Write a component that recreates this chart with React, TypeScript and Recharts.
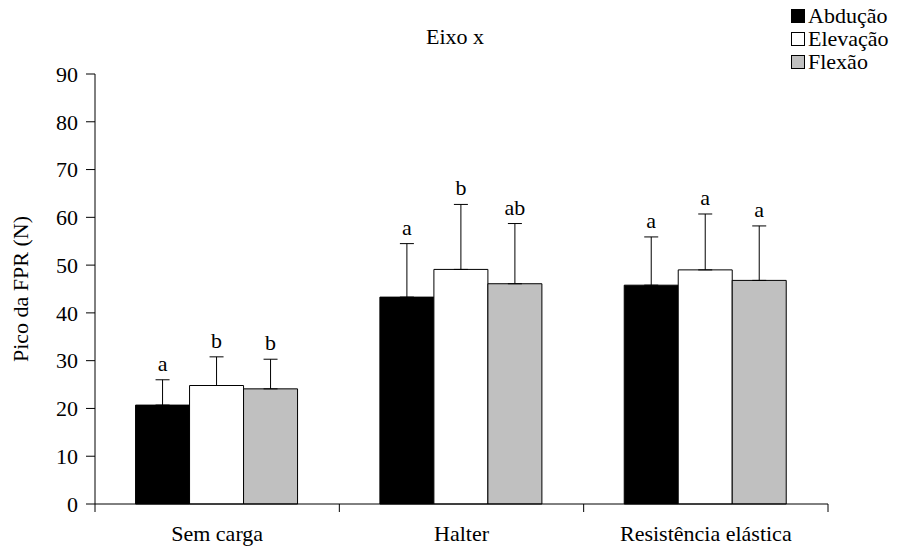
import React from 'react';
import { BarChart, Bar, XAxis, YAxis, ErrorBar, LabelList, Legend, Label } from 'recharts';

const categories = ['Sem carga', 'Halter', 'Resistência elástica'];
const abducao = [20.7, 43.3, 45.8];
const abducaoSd = [5.3, 11.2, 10.1];
const elevacao = [24.8, 49.1, 49.0];
const elevacaoSd = [6.0, 13.6, 11.7];
const flexao = [24.1, 46.1, 46.8];
const flexaoSd = [6.2, 12.6, 11.4];
const abducaoLetters = ['a', 'a', 'a'];
const elevacaoLetters = ['b', 'b', 'a'];
const flexaoLetters = ['b', 'ab', 'a'];
const yTicks = [0, 10, 20, 30, 40, 50, 60, 70, 80, 90];

const FONT = 'Liberation Serif';
const FS = 22;
const txt = { fontFamily: FONT, fontSize: FS };

const data = categories.map((name, i) => ({
  name,
  abd: abducao[i],
  abdErr: [0, abducaoSd[i]],
  abdL: abducaoLetters[i],
  ele: elevacao[i],
  eleErr: [0, elevacaoSd[i]],
  eleL: elevacaoLetters[i],
  fle: flexao[i],
  fleErr: [0, flexaoSd[i]],
  fleL: flexaoLetters[i],
}));

const series = [
  { key: 'abd', name: 'Abdução', fill: '#000000', sd: abducaoSd, vals: abducao },
  { key: 'ele', name: 'Elevação', fill: '#ffffff', sd: elevacaoSd, vals: elevacao },
  { key: 'fle', name: 'Flexão', fill: '#c0c0c0', sd: flexaoSd, vals: flexao },
];

// letter above the error bar: bar px-per-unit from bar geometry
const letterContent = (vals: number[], sd: number[]) => (props: any) => {
  const { x, y, width, height, value, index } = props;
  const pxPerUnit = height / vals[index];
  const top = y - sd[index] * pxPerUnit;
  return (
    <text x={x + width / 2} y={top - 9} textAnchor="middle" style={txt} fill="#000">
      {value}
    </text>
  );
};

// category label + tick marks on the band edges (Excel style)
const CatTick = (props: any) => {
  const { x, y, payload, index, visibleTicksCount } = props;
  const half = payload.offset || 0;
  const last = index === visibleTicksCount - 1;
  return (
    <g>
      <line x1={x - half} x2={x - half} y1={y} y2={y + 8} stroke="#000" />
      {last && <line x1={x + half} x2={x + half} y1={y} y2={y + 8} stroke="#000" />}
      <text x={x} y={y + 21} dy="0.71em" textAnchor="middle" style={txt} fill="#000">
        {payload.value}
      </text>
    </g>
  );
};

const LegendBox = () => (
  <div style={{ ...txt, color: '#000', lineHeight: '23px' }}>
    {series.map((s) => (
      <div key={s.key} style={{ display: 'flex', alignItems: 'center', whiteSpace: 'nowrap' }}>
        <span
          style={{
            display: 'inline-block',
            width: 12,
            height: 12,
            background: s.fill,
            border: '1px solid #000',
            marginRight: 3,
          }}
        />
        {s.name}
      </div>
    ))}
  </div>
);

const YTitle = (props: any) => {
  const vb = props.viewBox || { x: 0, y: 74, width: 95, height: 430 };
  const cx = 20;
  const cy = vb.y + vb.height / 2;
  return (
    <text x={cx} y={cy} transform={`rotate(-90 ${cx} ${cy})`} textAnchor="middle" dominantBaseline="central" style={txt} fill="#000">
      Pico da FPR (N)
    </text>
  );
};

export default function App() {
  return (
    <div style={{ position: 'absolute', left: 0, top: 0, width: 898, height: 548, background: '#fff', ...txt }}>
      <BarChart
        width={898}
        height={548}
        data={data}
        margin={{ top: 74, right: 70, left: 0, bottom: 0 }}
        barCategoryGap="16.6%"
        barGap={0}
        style={txt}
      >
        <text x={455} y={44} textAnchor="middle" style={txt} fill="#000">
          Eixo x
        </text>
        <XAxis
          dataKey="name"
          height={44}
          axisLine={{ stroke: '#000' }}
          tickLine={false}
          tickSize={0}
          tickMargin={0}
          tick={CatTick}
        />
        <YAxis
          domain={[0, 90]}
          ticks={yTicks}
          width={95}
          axisLine={{ stroke: '#000' }}
          tickLine={{ stroke: '#000' }}
          tickSize={9}
          tickMargin={8}
          tick={{ fill: '#000', ...txt }}
        >
          <Label content={YTitle} />
        </YAxis>
        {/* vertical + center + middle: legend takes no room from the plot */}
        <Legend
          layout="vertical"
          verticalAlign="middle"
          align="center"
          content={LegendBox}
          wrapperStyle={{ position: 'absolute', top: 4, left: 791, width: 110, right: 'auto', bottom: 'auto' }}
        />
        {series.map((s) => (
          <Bar
            key={s.key}
            dataKey={s.key}
            name={s.name}
            fill={s.fill}
            stroke="#000"
            strokeWidth={1}
            isAnimationActive={false}
          >
            <ErrorBar dataKey={s.key + 'Err'} width={7} stroke="#000" strokeWidth={1} direction="y" />
            <LabelList dataKey={s.key + 'L'} content={letterContent(s.vals, s.sd)} />
          </Bar>
        ))}
      </BarChart>
    </div>
  );
}
